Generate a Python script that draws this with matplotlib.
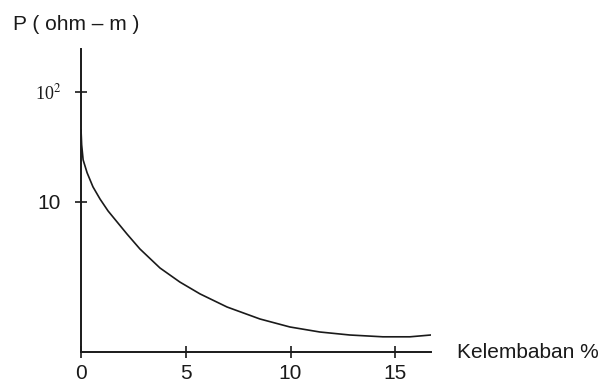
import numpy as np
import matplotlib.pyplot as plt
from matplotlib.ticker import NullLocator

# values (moisture % vs resistivity, log axis)
kelembaban = [0.0, 0.03, 0.1, 0.29, 0.57, 0.91, 1.29, 1.72, 2.19, 2.81, 3.77, 4.72,
              5.68, 6.97, 8.54, 9.97, 11.4, 12.83, 14.41, 15.7, 16.7]
resistivitas = [45.1, 33.0, 24.1, 18.4, 13.7, 10.6, 8.28, 6.58, 5.12, 3.74, 2.51, 1.87,
                1.46, 1.11, 0.864, 0.731, 0.658, 0.618, 0.595, 0.595, 0.618]

x_ticks = [0, 5, 10, 15]
y_ticks = [10, 100]

ink = "#1a1a1a"
plt.rcParams["font.family"] = ["Liberation Sans", "DejaVu Sans"]
plt.rcParams["mathtext.fontset"] = "stix"

fig = plt.figure(figsize=(5.98, 3.85), dpi=100)
ax = fig.add_axes([0.1355, 0.0857, 0.585, 0.787])

ax.plot(kelembaban, resistivitas, color=ink, lw=1.2, solid_joinstyle="round")
ax.set_yscale("log")
ax.set_xlim(0, 16.7)
ax.set_ylim(0.433, 245)

for side in ["top", "right"]:
    ax.spines[side].set_visible(False)
for side in ["left", "bottom"]:
    ax.spines[side].set_linewidth(1.4)
    ax.spines[side].set_color(ink)

ax.yaxis.set_minor_locator(NullLocator())
ax.set_xticks(x_ticks)
ax.set_xticklabels([str(v) for v in x_ticks], fontsize=15)
ax.set_yticks(y_ticks)
ax.set_yticklabels(["10", "10$^2$"])
ax.get_yticklabels()[0].set_fontsize(15)
ax.get_yticklabels()[1].set_fontsize(13)
ax.get_yticklabels()[1].set_family("Liberation Serif")

ax.tick_params(axis="both", direction="inout", length=9, width=1.2, color=ink, labelcolor=ink)
ax.tick_params(axis="x", pad=4)
ax.tick_params(axis="y", pad=10)

fig.text(0.022, 1 - 25 / 385, "P ( ohm \u2013 m )", fontsize=15, color=ink, va="center", ha="left")
fig.text(457 / 598, 1 - 352 / 385, "Kelembaban %", fontsize=15, color=ink, va="center", ha="left")

fig.savefig("out.png", dpi=100)
